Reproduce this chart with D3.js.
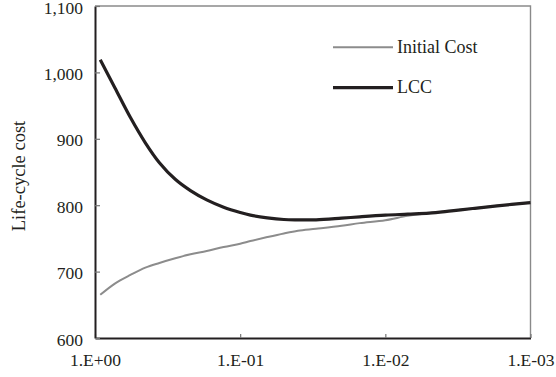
<!DOCTYPE html>
<html>
<head>
<meta charset="utf-8">
<script src="https://cdn.jsdelivr.net/npm/d3@7"></script>
<style>
  body { margin: 0; background: #fff; }
  text { font-family: "Liberation Serif", "Times New Roman", serif; fill: #231f20; }
</style>
</head>
<body>
<svg id="chart"></svg>
<script>
// probability level (log axis, reversed)
const xValues = [0.92, 0.73, 0.57, 0.45, 0.36, 0.28, 0.22, 0.17, 0.13, 0.1, 0.085, 0.065,
  0.05, 0.04, 0.03, 0.02, 0.015, 0.01, 0.007, 0.005, 0.0035, 0.0025, 0.0017, 0.001];
const lccValues = [1019, 977, 932, 894, 864, 839, 822, 808, 797, 789, 785, 781,
  778.5, 778, 778, 780.5, 782.5, 785, 786.5, 788, 791.5, 795, 799, 804];
const initialCostValues = [665, 682, 695, 706, 713, 720, 726, 731, 737, 742, 746, 752,
  757.5, 761.5, 764.5, 769, 773, 777.5, 784, 788, 791.5, 795, 799, 804];
const xTicks = [1, 0.1, 0.01, 0.001];
const xTickLabels = ["1.E+00", "1.E-01", "1.E-02", "1.E-03"];
const yTicks = [600, 700, 800, 900, 1000, 1100];
const seriesNames = ["Initial Cost", "LCC"];

const W = 556, H = 377;
const margin = { top: 6, right: 25.5, bottom: 39, left: 95 };
const width = W - margin.left - margin.right;
const height = H - margin.top - margin.bottom;

const svg = d3.select("#chart").attr("width", W).attr("height", H);
const g = svg.append("g").attr("transform", `translate(${margin.left},${margin.top})`);

const x = d3.scaleLog().domain([1, 0.001]).range([0, width]);
const y = d3.scaleLinear().domain([600, 1100]).range([height, 0]);

// top and right frame
g.append("path")
    .attr("d", `M0,0H${width}V${height}`)
    .attr("fill", "none")
    .attr("stroke", "#8a8a8a")
    .attr("stroke-width", 1.4);

const xAxis = g.append("g")
    .attr("transform", `translate(0,${height})`)
    .call(d3.axisBottom(x).tickValues(xTicks)
      .tickFormat((d, i) => xTickLabels[i])
      .tickSizeInner(-4).tickSizeOuter(0).tickPadding(16));

const yAxis = g.append("g")
    .call(d3.axisLeft(y).tickValues(yTicks)
      .tickFormat(d3.format(","))
      .tickSizeInner(-5).tickSizeOuter(0).tickPadding(12));

[xAxis, yAxis].forEach(a => {
  a.select(".domain").attr("stroke", "#231f20").attr("stroke-width", 2);
  a.selectAll(".tick line").attr("stroke", "#777").attr("stroke-width", 1.2);
  a.selectAll("text").attr("font-size", 17.5).attr("fill", "#231f20");
});
yAxis.selectAll("text").attr("dy", "0.4em");

const line = d3.line()
    .x(d => x(d[0]))
    .y(d => y(d[1]))
    .curve(d3.curveCatmullRom.alpha(0.5));

g.append("path")
    .datum(xValues.map((v, i) => [v, initialCostValues[i]]))
    .attr("fill", "none")
    .attr("stroke", "#8c8c8c")
    .attr("stroke-width", 2)
    .attr("d", line);

g.append("path")
    .datum(xValues.map((v, i) => [v, lccValues[i]]))
    .attr("fill", "none")
    .attr("stroke", "#231f20")
    .attr("stroke-width", 3.2)
    .attr("d", line);

// y axis title
svg.append("text")
    .attr("transform", "translate(25,176) rotate(-90)")
    .attr("text-anchor", "middle")
    .attr("font-size", 18.5)
    .text("Life-cycle cost");

// legend
const legend = svg.append("g");
const legendStyle = [
  { color: "#8c8c8c", w: 2, y: 47.3 },
  { color: "#231f20", w: 3.2, y: 87.7 }
];
seriesNames.forEach((name, i) => {
  legend.append("line")
      .attr("x1", 333).attr("x2", 393)
      .attr("y1", legendStyle[i].y).attr("y2", legendStyle[i].y)
      .attr("stroke", legendStyle[i].color)
      .attr("stroke-width", legendStyle[i].w);
  legend.append("text")
      .attr("x", 397).attr("y", legendStyle[i].y + 5.5)
      .attr("font-size", 18)
      .text(name);
});
</script>
</body>
</html>
